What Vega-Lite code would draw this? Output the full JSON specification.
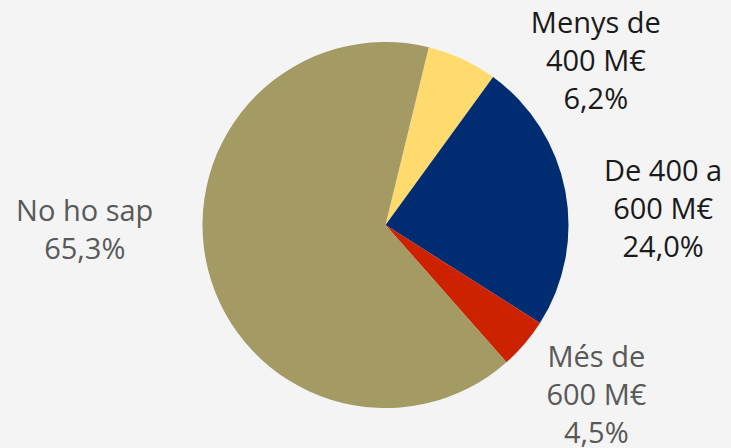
{
  "$schema": "https://vega.github.io/schema/vega-lite/v6.json",
  "width": 691,
  "height": 446,
  "autosize": {"type": "none"},
  "padding": {"left": 40, "right": 0, "top": 2, "bottom": 0},
  "background": "#f4f4f4",
  "config": {"view": {"stroke": null}, "font": "Open Sans"},
  "data": {
    "values": [
      {"cat": "Menys de 400 M€", "v": 6.2, "order": 1, "label": ["Menys de", "400 M€", "6,2%"]},
      {"cat": "De 400 a 600 M€", "v": 24.0, "order": 2, "label": ["De 400 a", "600 M€", "24,0%"]},
      {"cat": "Més de 600 M€", "v": 4.5, "order": 3, "label": ["Més de", "600 M€", "4,5%"]},
      {"cat": "No ho sap", "v": 65.3, "order": 4, "label": ["No ho sap", "65,3%"]}
    ]
  },
  "layer": [
    {
      "mark": {"type": "arc", "outerRadius": 183},
      "encoding": {
        "theta": {"field": "v", "type": "quantitative", "stack": true, "scale": {"domain": [0, 100], "range": [0.239, 6.522]}},
        "order": {"field": "order", "type": "quantitative"},
        "color": {
          "field": "cat", "type": "nominal", "legend": null,
          "scale": {
            "domain": ["Menys de 400 M€", "De 400 a 600 M€", "Més de 600 M€", "No ho sap"],
            "range": ["#ffdb6e", "#002d72", "#cc2200", "#a39a64"]
          }
        }
      }
    },
    {
      "transform": [
        {"stack": "v", "groupby": [], "sort": [{"field": "order"}], "as": ["s0", "s1"]},
        {"filter": "datum.order == 1"}
      ],
      "mark": {"type": "text", "radius": 200, "dx": 163, "dy": -7, "fontSize": 29, "lineHeight": 38, "baseline": "middle", "align": "center", "color": "#1a1a1a"},
      "encoding": {"theta": {"field": "s0", "type": "quantitative", "stack": null}, "text": {"field": "label"}}
    },
    {
      "transform": [
        {"stack": "v", "groupby": [], "sort": [{"field": "order"}], "as": ["s0", "s1"]},
        {"filter": "datum.order == 2"}
      ],
      "mark": {"type": "text", "radius": 200, "dx": 160, "dy": 109, "fontSize": 29, "lineHeight": 38, "baseline": "middle", "align": "center", "color": "#1a1a1a"},
      "encoding": {"theta": {"field": "s0", "type": "quantitative", "stack": null}, "text": {"field": "label"}}
    },
    {
      "transform": [
        {"stack": "v", "groupby": [], "sort": [{"field": "order"}], "as": ["s0", "s1"]},
        {"filter": "datum.order == 3"}
      ],
      "mark": {"type": "text", "radius": 200, "dx": 42, "dy": 26, "fontSize": 29, "lineHeight": 38, "baseline": "middle", "align": "center", "color": "#595959"},
      "encoding": {"theta": {"field": "s0", "type": "quantitative", "stack": null}, "text": {"field": "label"}}
    },
    {
      "transform": [
        {"stack": "v", "groupby": [], "sort": [{"field": "order"}], "as": ["s0", "s1"]},
        {"filter": "datum.order == 4"}
      ],
      "mark": {"type": "text", "radius": 200, "dx": -433, "dy": -163, "fontSize": 29, "lineHeight": 38, "baseline": "middle", "align": "center", "color": "#595959"},
      "encoding": {"theta": {"field": "s0", "type": "quantitative", "stack": null}, "text": {"field": "label"}}
    }
  ]
}
